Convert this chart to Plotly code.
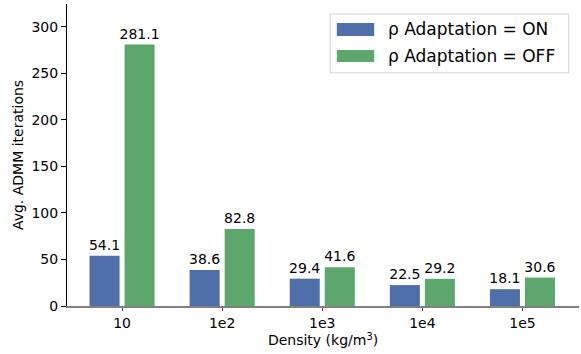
import plotly.graph_objects as go

categories = ["10", "1e2", "1e3", "1e4", "1e5"]
adapt_on = [54.1, 38.6, 29.4, 22.5, 18.1]
adapt_off = [281.1, 82.8, 41.6, 29.2, 30.6]
series_names = ["ρ Adaptation = ON", "ρ Adaptation = OFF"]
colors = ["#4e6fa9", "#5ca76c"]
y_ticks = [0, 50, 100, 150, 200, 250, 300]

FONT = "DejaVu Sans"

fig = go.Figure()
for name, vals, col in zip(series_names, [adapt_on, adapt_off], colors):
    fig.add_trace(go.Bar(
        x=categories, y=vals, name=name, marker=dict(color=col, line=dict(width=0)),
        text=[f"{v:.1f}" for v in vals], textposition="outside",
        textfont=dict(family=FONT, size=14, color="black"),
        constraintext="none", cliponaxis=False, showlegend=False,
    ))

# custom legend (paper coordinates)
shapes = [dict(type="rect", xref="paper", yref="paper", x0=0.514, x1=0.980, y0=0.772, y1=0.967,
               line=dict(color="#d0d0d0", width=1), fillcolor="rgba(255,255,255,0.8)", layer="above")]
annotations = []
rows = [(0.937, 0.894, 0.916), (0.848, 0.808, 0.828)]
for (ya, yb, yc), name, col in zip(rows, series_names, colors):
    shapes.append(dict(type="rect", xref="paper", yref="paper", x0=0.527, x1=0.600, y0=yb, y1=ya,
                       line=dict(width=0), fillcolor=col, layer="above"))
    annotations.append(dict(xref="paper", yref="paper", x=0.624, y=yc, text=name, showarrow=False,
                            xanchor="left", yanchor="middle", font=dict(family=FONT, size=17, color="black")))

fig.update_layout(
    width=581, height=354,
    margin=dict(l=67, r=2, t=4, b=48),
    paper_bgcolor="white", plot_bgcolor="white",
    barmode="group", bargap=0.3, bargroupgap=0.143,
    font=dict(family=FONT, size=14, color="black"),
    shapes=shapes, annotations=annotations,
    xaxis=dict(type="category", range=[-0.55, 4.565], showline=True, linecolor="#808080", linewidth=1.5,
               ticks="outside", ticklen=3, tickcolor="#404040", tickwidth=1,
               tickfont=dict(family=FONT, size=14, color="black"), showgrid=False, zeroline=False,
               title=dict(text="Density (kg/m<sup>3</sup>)", font=dict(family=FONT, size=14, color="black"), standoff=5)),
    yaxis=dict(range=[0, 324.7], tickvals=y_ticks, showline=True, linecolor="black", linewidth=1,
               ticks="outside", ticklen=5, tickcolor="black",
               tickfont=dict(family=FONT, size=14, color="black"), showgrid=False, zeroline=False,
               title=dict(text="Avg. ADMM iterations", font=dict(family=FONT, size=14, color="black"), standoff=4)),
)

fig.write_html("out.html", config={"displayModeBar": False},
               post_script="document.body.style.margin='0';document.body.style.overflow='hidden';")
